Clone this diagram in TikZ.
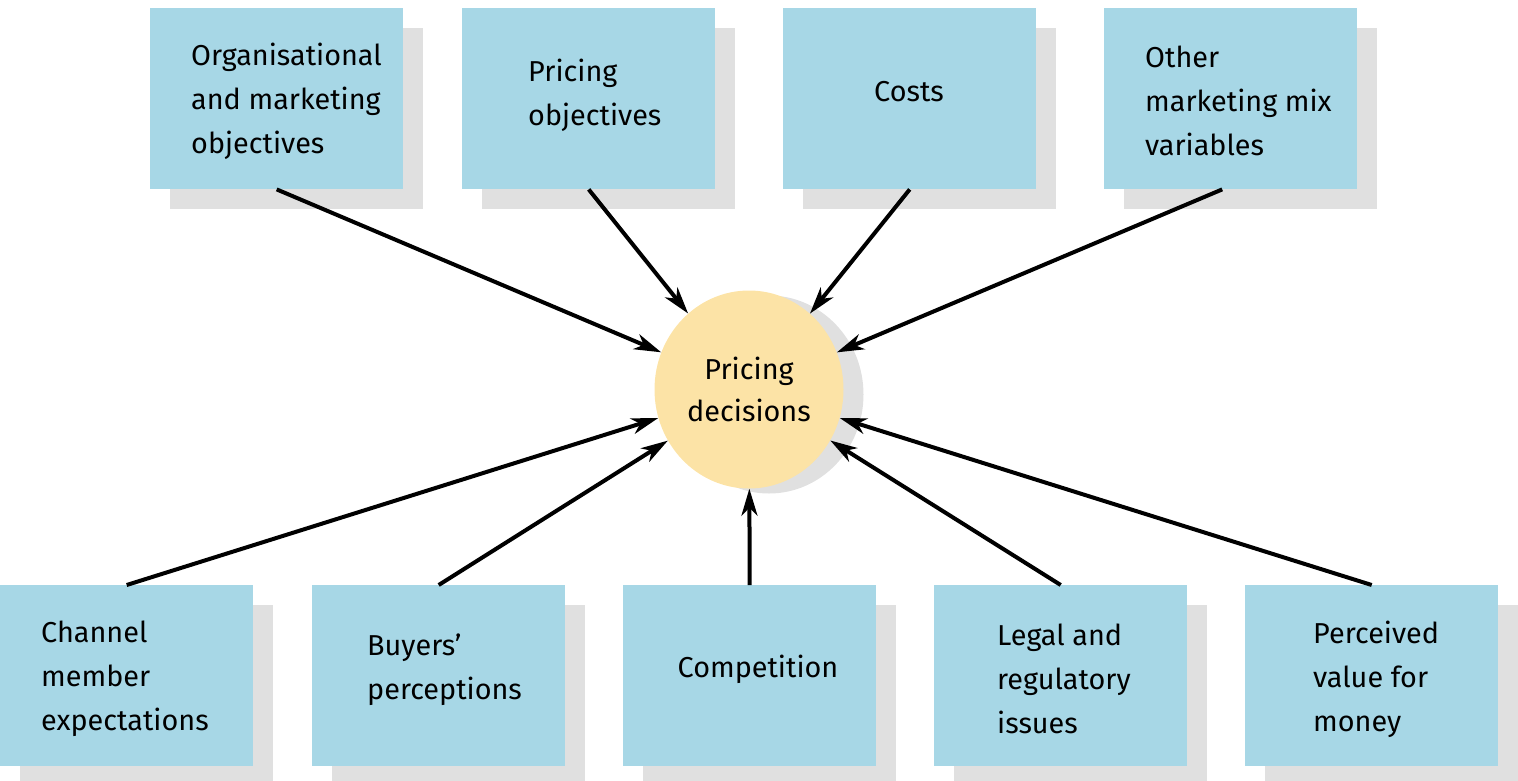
\documentclass[tikz,border=0pt]{standalone}
\usepackage{fontspec}
\setmainfont{Fira Sans}
\usetikzlibrary{arrows.meta,shadows,shapes.geometric}
\definecolor{boxblue}{RGB}{167,215,230}
\definecolor{shadegray}{RGB}{224,224,224}
\definecolor{circyellow}{RGB}{252,227,166}
\begin{document}
\begin{tikzpicture}[x=1pt,y=-1pt,
  factor/.style={rectangle,fill=boxblue,inner sep=0pt,minimum width=253pt,minimum height=181pt,anchor=north west,
    general shadow={fill=shadegray,shadow xshift=20pt,shadow yshift=-20pt}},
  lbl/.style={anchor=west,align=left,inner sep=0pt,font=\fontsize{28.8}{44}\selectfont},
  arr/.style={line width=4pt,-{Stealth[length=27pt,width=16pt,inset=8pt]}}]
\clip (0,0) rectangle (1518,780);
% central circle
\node[ellipse,fill=circyellow,minimum width=189pt,minimum height=198pt,inner sep=0pt,
  general shadow={fill=shadegray,shadow xshift=20pt,shadow yshift=-5pt},
  align=center,font=\fontsize{28.8}{42}\selectfont] (pd) at (749,389.5) {Pricing\\decisions};
% top row
\node[factor] (b1) at (150,8) {};
\node[factor] (b2) at (462,8) {};
\node[factor] (b3) at (783,8) {};
\node[factor] (b4) at (1104,8) {};
% bottom row
\node[factor] (c1) at (0,585) {};
\node[factor] (c2) at (312,585) {};
\node[factor] (c3) at (623,585) {};
\node[factor] (c4) at (934,585) {};
\node[factor] (c5) at (1245,585) {};
% labels
\node[lbl] (t1) at (191,101) {Organisational\\and marketing\\objectives};
\node[lbl] (t2) at (528,95) {Pricing\\objectives};
\node[lbl,anchor=center] (t3) at (909,92) {Costs};
\node[lbl] (t4) at (1145,101) {Other\\marketing mix\\variables};
\node[lbl] (u1) at (41,679) {Channel\\member\\expectations};
\node[lbl] (u2) at (367,670) {Buyers’\\perceptions};
\node[lbl,anchor=center] (u3) at (758,669) {Competition};
\node[lbl] (u4) at (997,679) {Legal and\\regulatory\\issues};
\node[lbl] (u5) at (1313,679) {Perceived\\value for\\money};
% connectors
\draw[arr] (b1.south) -- (pd);
\draw[arr] (b2.south) -- (pd);
\draw[arr] (b3.south) -- (pd);
\draw[arr] ([xshift=-8.5pt]b4.south) -- (pd);
\draw[arr] (c1.north) -- (pd);
\draw[arr] (c2.north) -- (pd);
\draw[arr] (c3.north) -- (pd);
\draw[arr] (c4.north) -- (pd);
\draw[arr] (c5.north) -- (pd);
\end{tikzpicture}
\end{document}
